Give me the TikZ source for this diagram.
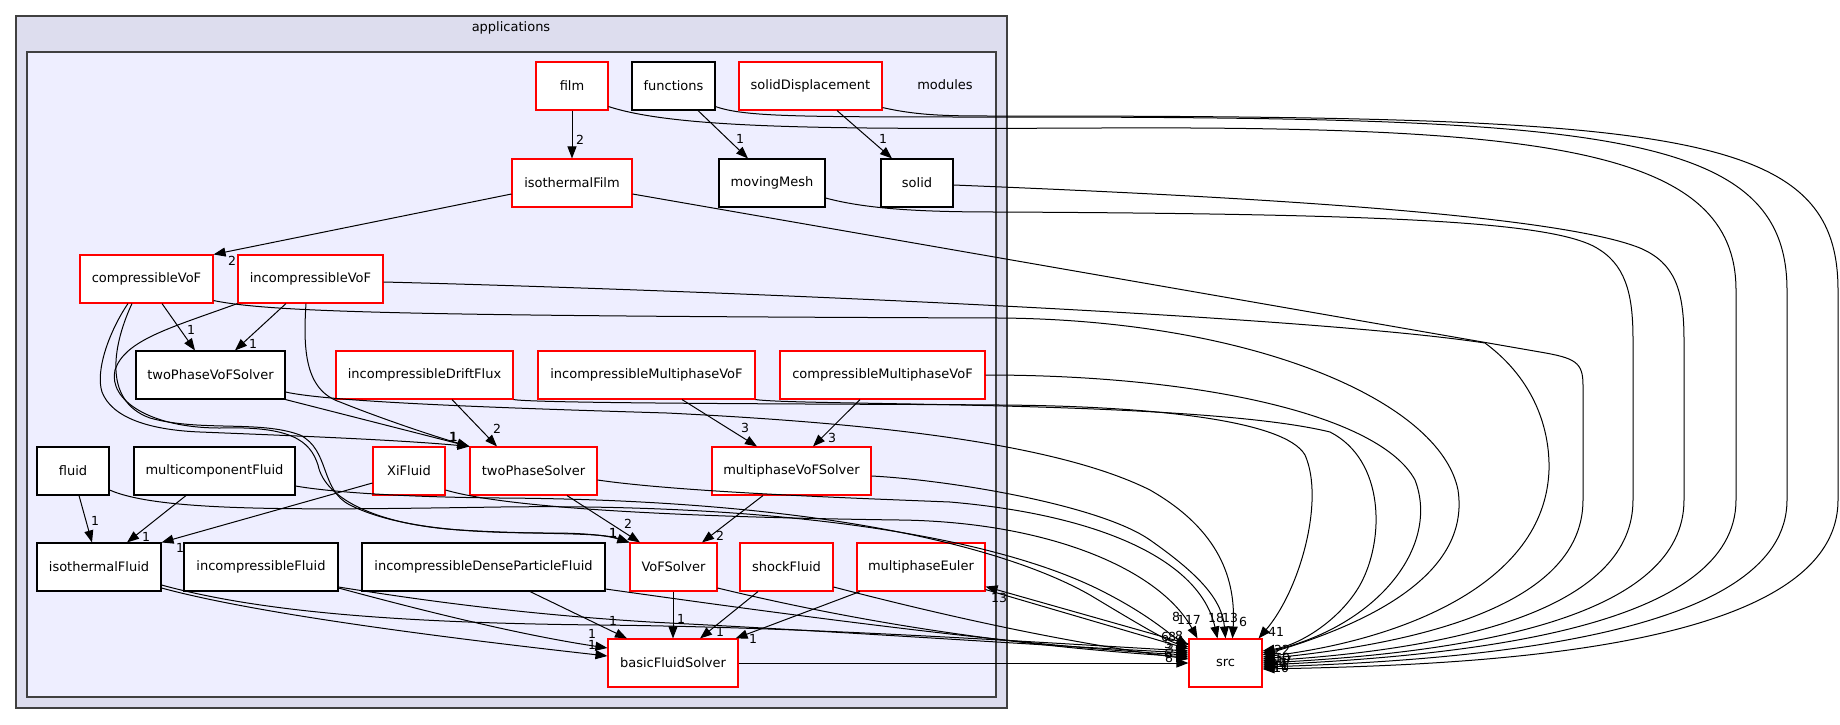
\documentclass[tikz,border=0pt]{standalone}
\usepackage{fontspec}
\setmainfont{DejaVu Sans}
\usetikzlibrary{arrows.meta}
\definecolor{outerfill}{HTML}{DDDDEE}
\definecolor{innerfill}{HTML}{EEEEFF}
\definecolor{clusterline}{HTML}{404040}

\begin{document}
\begin{tikzpicture}[x=1pt,y=-1pt,
  folder/.style={draw=black,fill=white,line width=1.1pt,minimum height=48pt,inner sep=0pt,font=\fontsize{13}{15}\selectfont},
  redfolder/.style={folder,draw=red},
  dep/.style={-{Triangle[length=12pt,width=9pt]},line width=1pt},
  num/.style={inner sep=0pt,font=\fontsize{12.5}{14}\selectfont}]

\useasboundingbox (0,0) rectangle (1840,724);

% Clusters
\filldraw[draw=clusterline,fill=outerfill,line width=1.3pt] (16,16) rectangle (1007,708);
\filldraw[draw=clusterline,fill=innerfill,line width=1.3pt] (27,52) rectangle (996,697);
\node[num,font=\fontsize{13}{15}\selectfont] (applicationslbl) at (511,28) {applications};
\node[num,font=\fontsize{13}{15}\selectfont] (moduleslbl) at (945,85) {modules};

% Top row
\node[redfolder,minimum width=72pt] (film) at (572,86) {film};
\node[folder,minimum width=83pt] (functions) at (673.5,86) {functions};
\node[redfolder,minimum width=143pt] (solidDisplacement) at (810.5,86) {solidDisplacement};

% Second row
\node[redfolder,minimum width=120pt] (isothermalFilm) at (572,183) {isothermalFilm};
\node[folder,minimum width=106pt] (movingMesh) at (772,183) {movingMesh};
\node[folder,minimum width=72pt] (solid) at (917,183) {solid};

% VoF modules
\node[redfolder,minimum width=133pt] (compressibleVoF) at (146.5,279) {compressibleVoF};
\node[redfolder,minimum width=145pt] (incompressibleVoF) at (310.5,279) {incompressibleVoF};

% Fourth row
\node[folder,minimum width=149pt] (twoPhaseVoFSolver) at (210.5,375) {twoPhaseVoFSolver};
\node[redfolder,minimum width=177pt] (incompressibleDriftFlux) at (424.5,375) {incompressibleDriftFlux};
\node[redfolder,minimum width=217pt] (incompressibleMultiphaseVoF) at (646.5,375) {incompressibleMultiphaseVoF};
\node[redfolder,minimum width=205pt] (compressibleMultiphaseVoF) at (882.5,375) {compressibleMultiphaseVoF};

% Fifth row
\node[folder,minimum width=72pt] (fluid) at (73,471) {fluid};
\node[folder,minimum width=161pt] (multicomponentFluid) at (214.5,471) {multicomponentFluid};
\node[redfolder,minimum width=72pt] (XiFluid) at (409,471) {XiFluid};
\node[redfolder,minimum width=127pt] (twoPhaseSolver) at (533.5,471) {twoPhaseSolver};
\node[redfolder,minimum width=159pt] (multiphaseVoFSolver) at (791.5,471) {multiphaseVoFSolver};

% Sixth row
\node[folder,minimum width=124pt] (isothermalFluid) at (99,567) {isothermalFluid};
\node[folder,minimum width=154pt] (incompressibleFluid) at (261,567) {incompressibleFluid};
\node[folder,minimum width=243pt] (incompressibleDenseParticleFluid) at (483.5,567) {incompressibleDenseParticleFluid};
\node[redfolder,minimum width=87pt] (VoFSolver) at (673.5,567) {VoFSolver};
\node[redfolder,minimum width=93pt] (shockFluid) at (786.5,567) {shockFluid};
\node[redfolder,minimum width=128pt] (multiphaseEuler) at (921,567) {multiphaseEuler};

% Bottom
\node[redfolder,minimum width=130pt] (basicFluidSolver) at (673,663) {basicFluidSolver};
\node[redfolder,minimum width=73pt] (src) at (1225.5,663) {src};

% Arrows inside modules
\draw[dep] (film.south) -- (isothermalFilm.north);
\draw[dep] ([xshift=24.5pt]functions.south) -- ([xshift=-24pt]movingMesh.north);
\draw[dep] ([xshift=26.5pt]solidDisplacement.south) -- ([xshift=-25pt]solid.north);
\draw[dep] ([yshift=-11pt]isothermalFilm.west) -- (compressibleVoF.north east);
\draw[dep] ([xshift=15.5pt]compressibleVoF.south) -- ([xshift=-15.5pt]twoPhaseVoFSolver.north);
\draw[dep] ([xshift=-24.5pt]incompressibleVoF.south) -- ([xshift=24.5pt]twoPhaseVoFSolver.north);
\draw[dep] ([xshift=-18.5pt]compressibleVoF.south) .. controls (110,330) and (95,370) .. (102,392) .. controls (112,418) and (150,430) .. (200,432) .. controls (300,436) and (400,440) .. (twoPhaseSolver.north west);
\draw[dep] ([xshift=-4.5pt]incompressibleVoF.south) .. controls (303,350) and (305,390) .. (340,402) .. controls (380,418) and (430,435) .. (twoPhaseSolver.north west);
\draw[dep] (twoPhaseVoFSolver.south east) -- (twoPhaseSolver.north west);
\draw[dep] ([xshift=27.5pt]incompressibleDriftFlux.south) -- ([xshift=-36.5pt]twoPhaseSolver.north);
\draw[dep] ([xshift=35.5pt]incompressibleMultiphaseVoF.south) -- ([xshift=-34.5pt]multiphaseVoFSolver.north);
\draw[dep] ([xshift=-22.5pt]compressibleMultiphaseVoF.south) -- ([xshift=21.5pt]multiphaseVoFSolver.north);
\draw[dep] ([xshift=-14.5pt]compressibleVoF.south) .. controls (115,340) and (100,400) .. (150,418) .. controls (200,432) and (260,420) .. (300,435) .. controls (330,450) and (320,490) .. (350,505) .. controls (400,530) and (480,533) .. (550,533) .. controls (600,533) and (615,538) .. (VoFSolver.north west);
\draw[dep] (incompressibleVoF.south west) .. controls (170,328) and (125,340) .. (115,370) .. controls (108,400) and (150,428) .. (220,428) .. controls (290,426) and (310,440) .. (318,465) .. controls (325,500) and (380,525) .. (460,530) .. controls (540,535) and (600,532) .. (VoFSolver.north west);
\draw[dep] ([xshift=33.5pt]twoPhaseSolver.south) -- ([xshift=-33.5pt]VoFSolver.north);
\draw[dep] ([xshift=-28.5pt]multiphaseVoFSolver.south) -- ([xshift=28.5pt]VoFSolver.north);
\draw[dep] ([xshift=6pt]fluid.south) -- ([xshift=-7pt]isothermalFluid.north);
\draw[dep] ([xshift=-28.5pt]multicomponentFluid.south) -- ([xshift=28pt]isothermalFluid.north);
\draw[dep] ([yshift=-12pt]XiFluid.west) -- (isothermalFluid.north east);
\draw[dep] ([yshift=-21pt]isothermalFluid.east) .. controls (250,612) and (420,635) .. ([yshift=7pt]basicFluidSolver.west);
\draw[dep] ([yshift=-21pt]incompressibleFluid.east) .. controls (420,610) and (520,635) .. ([yshift=15pt]basicFluidSolver.west);
\draw[dep] ([xshift=46.5pt]incompressibleDenseParticleFluid.south) -- ([xshift=-46pt]basicFluidSolver.north);
\draw[dep] ([xshift=-0.5pt]VoFSolver.south) -- (basicFluidSolver.north);
\draw[dep] ([xshift=-28.5pt]shockFluid.south) -- ([xshift=27pt]basicFluidSolver.north);
\draw[dep] ([xshift=-61pt]multiphaseEuler.south) -- ([xshift=-3pt]basicFluidSolver.north east);

% Arrows to src, right side
\draw[dep] ([yshift=4pt]film.south east) .. controls (680,130) and (850,129) .. (1100,128) .. controls (1550,126) and (1736,150) .. (1736,290) -- (1736,500) .. controls (1736,625) and (1480,655) .. ([yshift=-2pt]src.east);
\draw[dep] ([yshift=4pt]functions.south east) .. controls (745,117) and (800,117) .. (1000,117) .. controls (1600,117) and (1787,130) .. (1787,290) -- (1787,500) .. controls (1787,635) and (1480,660) .. ([yshift=-4pt]src.east);
\draw[dep] ([yshift=3pt]solidDisplacement.south east) .. controls (920,116) and (950,116) .. (1000,116) .. controls (1680,116) and (1838,130) .. (1838,290) -- (1838,500) .. controls (1838,650) and (1480,665) .. ([yshift=-6pt]src.east);
\draw[dep] ([yshift=-2pt]solid.east) .. controls (1200,195) and (1550,212) .. (1640,248) .. controls (1675,263) and (1684,290) .. (1684,340) -- (1684,500) .. controls (1684,615) and (1480,652) .. (src.east);
\draw[dep] ([yshift=-15pt]movingMesh.east) .. controls (870,210) and (930,212) .. (1000,212) .. controls (1400,214) and (1560,222) .. (1600,250) .. controls (1628,268) and (1633,300) .. (1633,340) -- (1633,500) .. controls (1633,605) and (1470,648) .. ([yshift=2pt]src.east);
\draw[dep] ([yshift=-11pt]isothermalFilm.east) -- (1540,352) .. controls (1575,358) and (1583,362) .. (1583,385) -- (1583,500) .. controls (1583,595) and (1450,640) .. ([yshift=4pt]src.east);
\draw[dep] ([yshift=-3pt]incompressibleVoF.east) .. controls (700,290) and (1300,315) .. (1485,343) .. controls (1535,380) and (1550,430) .. (1549,470) .. controls (1545,585) and (1400,640) .. ([yshift=6pt]src.east);
\draw[dep] ([yshift=3pt]compressibleVoF.south east) .. controls (270,312) and (400,316) .. (1000,318) .. controls (1250,320) and (1440,400) .. (1458,490) .. controls (1470,570) and (1380,620) .. ([yshift=8pt]src.east);
\draw[dep] (compressibleMultiphaseVoF.east) .. controls (1200,375) and (1380,415) .. (1415,480) .. controls (1440,545) and (1380,625) .. ([yshift=10pt]src.east);
\draw[dep] (incompressibleMultiphaseVoF.south east) .. controls (800,406) and (1200,400) .. (1330,432) .. controls (1385,460) and (1385,540) .. (1360,585) .. controls (1340,620) and (1300,645) .. ([yshift=12pt]src.east);

% Arrows to src, top
\draw[dep] (incompressibleDriftFlux.south east) .. controls (540,404) and (900,404) .. (1000,405) .. controls (1150,406) and (1285,420) .. (1305,455) .. controls (1325,500) and (1300,590) .. ([xshift=-4pt]src.north east);
\draw[dep] ([yshift=-17pt]twoPhaseVoFSolver.east) .. controls (330,402) and (500,408) .. (667,413) .. controls (850,422) and (1050,440) .. (1150,490) .. controls (1220,530) and (1236,580) .. ([xshift=7pt]src.north);
\draw[dep] ([yshift=-5pt]multiphaseVoFSolver.east) .. controls (950,480) and (1100,505) .. (1150,540) .. controls (1200,575) and (1222,600) .. (src.north);
\draw[dep] ([yshift=-9pt]twoPhaseSolver.east) .. controls (680,492) and (850,498) .. (950,502) .. controls (1100,515) and (1200,560) .. ([xshift=-8pt]src.north);
\draw[dep] ([yshift=-19pt]XiFluid.east) .. controls (520,512) and (750,518) .. (900,520) .. controls (1050,522) and (1160,570) .. ([xshift=-28pt]src.north);

% Arrows to src, left side
\draw[dep] ([yshift=-19pt]fluid.east) .. controls (160,512) and (300,510) .. (500,507) .. controls (800,503) and (1000,540) .. (1100,590) .. controls (1150,615) and (1170,635) .. ([yshift=18pt]src.west);
\draw[dep] ([yshift=-15pt]multicomponentFluid.east) .. controls (330,492) and (400,497) .. (500,498) .. controls (850,500) and (1020,555) .. (1090,595) .. controls (1140,625) and (1165,640) .. ([yshift=16pt]src.west);
\draw[dep] ([yshift=-18pt]isothermalFluid.east) .. controls (260,612) and (400,623) .. (600,625) .. controls (800,627) and (1000,640) .. ([yshift=12pt]src.west);
\draw[dep] ([yshift=-20pt]incompressibleFluid.east) .. controls (420,600) and (520,614) .. (650,622) .. controls (850,632) and (1000,643) .. ([yshift=10pt]src.west);
\draw[dep] ([yshift=-22pt]incompressibleDenseParticleFluid.east) .. controls (720,605) and (1000,645) .. ([yshift=8pt]src.west);
\draw[dep] ([yshift=-21pt]VoFSolver.east) .. controls (850,620) and (1000,645) .. ([yshift=6pt]src.west);
\draw[dep] ([yshift=-20pt]shockFluid.east) .. controls (930,612) and (1050,640) .. ([yshift=4pt]src.west);
\draw[dep] ([yshift=2pt]multiphaseEuler.south east) -- ([yshift=14pt]src.west);
\draw[dep] ([yshift=19pt]src.west) -- ([yshift=5pt]multiphaseEuler.south east);
\draw[dep] (basicFluidSolver.east) -- (src.west);

% Edge labels
\node[num] (n1) at (580,140) {2};
\node[num] (n2) at (740,139) {1};
\node[num] (n3) at (883,139) {1};
\node[num] (n4) at (232,261) {2};
\node[num] (n5) at (191,330) {1};
\node[num] (n6) at (253,344) {1};
\node[num] (n7) at (453,437) {1};
\node[num] (n8) at (453.4,437) {1};
\node[num] (n9) at (453.8,437) {1};
\node[num] (n10) at (497,429) {2};
\node[num] (n11) at (745,428) {3};
\node[num] (n12) at (832,438) {3};
\node[num] (n13) at (613,533) {1};
\node[num] (n14) at (613.4,533) {1};
\node[num] (n15) at (628,524) {2};
\node[num] (n16) at (720,536) {2};
\node[num] (n17) at (95,521) {1};
\node[num] (n18) at (146,537) {1};
\node[num] (n19) at (180,548) {1};
\node[num] (n20) at (592,634) {1};
\node[num] (n21) at (592,645) {1};
\node[num] (n22) at (613,621) {1};
\node[num] (n23) at (681,619) {1};
\node[num] (n24) at (720,632) {1};
\node[num] (n25) at (753,639) {1};
\node[num] (n26) at (999,598) {13};

% Labels round src
\node[num] (s1) at (1189,620) {117};
\node[num] (s2) at (1216,618) {18};
\node[num] (s3) at (1230,618) {13};
\node[num] (s4) at (1243,622) {6};
\node[num] (s5) at (1276,632) {41};
\node[num] (s6) at (1282,650) {22};
\node[num] (s7) at (1282,658) {10};
\node[num] (s8) at (1284,661) {17};
\node[num] (s9) at (1279,664) {14};
\node[num] (s10) at (1285,666) {1};
\node[num] (s11) at (1281,668) {10};
\node[num] (s12) at (1277,668) {1};
\node[num] (s13) at (1283,663) {7};
\node[num] (s14) at (1176,617) {8};
\node[num] (s15) at (1165,637) {6};
\node[num] (s16) at (1172,637) {8};
\node[num] (s17) at (1179,636) {8};
\node[num] (s18) at (1168,644) {5};
\node[num] (s19) at (1170,649) {3};
\node[num] (s20) at (1168,654) {6};
\node[num] (s21) at (1169,658) {8};

\end{tikzpicture}
\end{document}
